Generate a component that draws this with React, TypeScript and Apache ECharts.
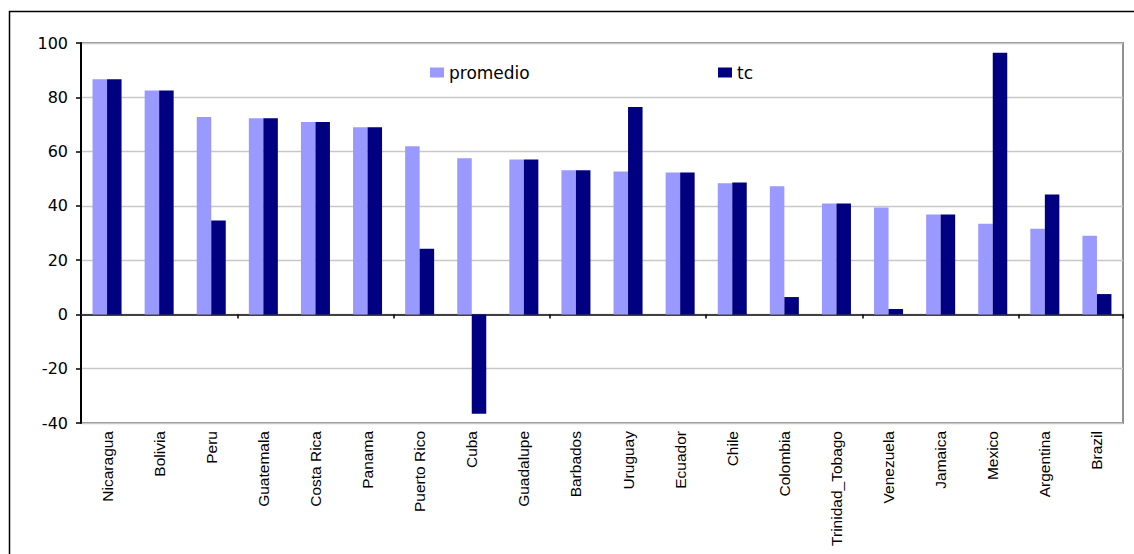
import React, { useEffect, useRef } from "react";
import * as echarts from "echarts";

// Country categories along the horizontal axis
const countries = [
  "Nicaragua", "Bolivia", "Peru", "Guatemala", "Costa Rica", "Panama",
  "Puerto Rico", "Cuba", "Guadalupe", "Barbados", "Uruguay", "Ecuador",
  "Chile", "Colombia", "Trinidad_Tobago", "Venezuela", "Jamaica", "Mexico",
  "Argentina", "Brazil",
];

// Series values
const promedio = [
  86.6, 82.5, 72.7, 72.3, 70.9, 69.0, 62.0, 57.5, 57.1, 53.1,
  52.7, 52.3, 48.3, 47.2, 40.9, 39.4, 36.8, 33.4, 31.6, 29.0,
];
const tc = [
  86.6, 82.5, 34.6, 72.3, 70.9, 69.0, 24.2, -36.6, 57.1, 53.1,
  76.4, 52.3, 48.6, 6.4, 40.9, 2.0, 36.8, 96.4, 44.2, 7.5,
];

// Value axis range
const yMin = -40;
const yMax = 100;
const yStep = 20;

const NARROW_FONT = "'Liberation Sans Narrow', 'Liberation Sans', Arial, sans-serif";
const WIDE_FONT = "'DejaVu Sans', 'Liberation Sans', sans-serif";

export default function App() {
  const ref = useRef<HTMLDivElement>(null);

  useEffect(() => {
    if (!ref.current) return;
    const chart = echarts.init(ref.current, null, { renderer: "svg" });
    chart.setOption({
      animation: false,
      backgroundColor: "#ffffff",
      grid: {
        left: 81,
        top: 43,
        right: 11,
        bottom: 131,
        outerBoundsMode: "none",
        containLabel: false,
        show: true,
        borderColor: "#919191",
        borderWidth: 2,
        backgroundColor: "#ffffff",
      },
      legend: [
        {
          data: ["promedio"],
          left: 430,
          top: 64,
          padding: 0,
          itemWidth: 14,
          itemHeight: 10,
          itemGap: 5,
          icon: "rect",
          textStyle: { fontFamily: WIDE_FONT, fontSize: 17, color: "#000" },
        },
        {
          data: ["tc"],
          left: 718,
          top: 64,
          padding: 0,
          itemWidth: 14,
          itemHeight: 10,
          itemGap: 5,
          icon: "rect",
          textStyle: { fontFamily: WIDE_FONT, fontSize: 17, color: "#000" },
        },
      ],
      xAxis: [
        {
          // zero baseline with category separators
          type: "category",
          data: countries,
          position: "bottom",
          axisLine: { onZero: true, lineStyle: { color: "#404040", width: 2 } },
          axisTick: { show: true, length: 4, lineStyle: { color: "#000", width: 1.5 } },
          axisLabel: { show: false },
          splitLine: { show: false },
        },
        {
          // country names along the bottom of the plot
          type: "category",
          data: countries,
          position: "bottom",
          axisLine: { show: false, onZero: false },
          axisTick: { show: false },
          axisLabel: {
            rotate: 90,
            margin: 8,
            interval: 0,
            fontFamily: NARROW_FONT,
            fontSize: 15.5,
            color: "#000",
          },
          splitLine: { show: false },
        },
      ],
      yAxis: {
        type: "value",
        min: yMin,
        max: yMax,
        interval: yStep,
        axisLine: { show: true, lineStyle: { color: "#000", width: 2 } },
        axisTick: { show: true, length: 5, lineStyle: { color: "#000", width: 1.5 } },
        axisLabel: { margin: 13, fontFamily: WIDE_FONT, fontSize: 16, color: "#000" },
        splitLine: { show: true, lineStyle: { color: "#c8c8c8", width: 1.3 } },
      },
      series: [
        {
          name: "promedio",
          type: "bar",
          xAxisIndex: 0,
          data: promedio,
          barWidth: 14.5,
          barGap: "0%",
          itemStyle: { color: "#9999ff" },
        },
        {
          name: "tc",
          type: "bar",
          xAxisIndex: 0,
          data: tc,
          barWidth: 14.5,
          barGap: "0%",
          itemStyle: { color: "#000080" },
        },
      ],
      graphic: [
        {
          type: "rect",
          left: 7,
          top: 9,
          shape: { x: 0, y: 0, width: 1200, height: 600 },
          style: { fill: "none", stroke: "#000", lineWidth: 1.5 },
          silent: true,
          z: 100,
        },
      ],
    });
    return () => chart.dispose();
  }, []);

  return (
    <div
      ref={ref}
      style={{ position: "absolute", left: 0, top: 0, width: 1134, height: 554 }}
    />
  );
}
